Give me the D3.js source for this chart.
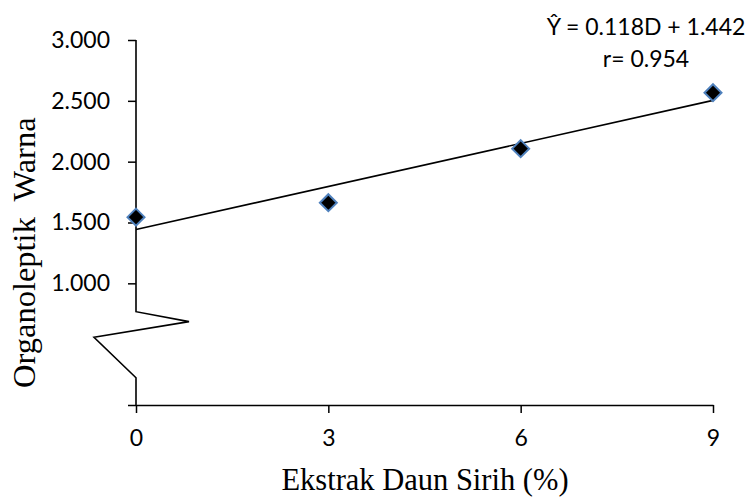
<!DOCTYPE html>
<html lang="en">
<head>
  <meta charset="UTF-8">
  <title>Organoleptik Warna vs Ekstrak Daun Sirih</title>
  <script src="https://d3js.org/d3.v7.min.js"></script>
  <style>
    body { margin: 0; background: #fff; }
    svg { display: block; }
    .tick text { font-family: Lato, 'Open Sans', sans-serif; font-size: 23px; fill: #000; }
    .tick line { stroke: #000; stroke-width: 1.5px; }
    .title { font-family: 'Liberation Serif', 'Times New Roman', serif; fill: #000; }
    .eq { font-family: Lato, 'Open Sans', sans-serif; font-size: 23px; fill: #000; }
  </style>
</head>
<body>
  <svg id="chart"></svg>
  <script>
    // data
    const ekstrak = [0, 3, 6, 9];                   // % daun sirih
    const warna = [1.544, 1.663, 2.107, 2.567];     // organoleptik warna score
    const xTicks = [0, 3, 6, 9];
    const yTicks = [0, 1, 1.5, 2, 2.5, 3];          // 0 tick has no label
    const slope = 0.118, intercept = 1.442, r = 0.954;

    const width = 750, height = 498;

    const svg = d3.select("#chart")
      .attr("width", width)
      .attr("height", height);

    const x = d3.scaleLinear().domain([0, 9]).range([136, 713]);
    const y = d3.scaleLinear().domain([0, 3]).range([405, 40]);

    // X axis
    const xAxis = svg.append("g")
      .attr("transform", "translate(0," + y(0) + ")")
      .call(d3.axisBottom(x).tickValues(xTicks).tickSize(8).tickSizeOuter(0).tickPadding(17));
    xAxis.select(".domain").attr("stroke", "#000").attr("stroke-width", 1.5);

    // Y axis (domain drawn by hand because of the axis break)
    const yAxis = svg.append("g")
      .attr("transform", "translate(" + x(0) + ",0)")
      .call(d3.axisLeft(y).tickValues(yTicks).tickSize(8).tickPadding(18)
        .tickFormat(d => d === 0 ? "" : d3.format(".3f")(d)));
    yAxis.select(".domain").remove();

    // axis line with a zig-zag break between 0 and 1
    const breakPts = [[0, 3], [0, 0.767], [53, 0.685], [-42, 0.557], [0, 0.224], [0, 0]];
    svg.append("path")
      .attr("d", d3.line()(breakPts.map(p => [x(0) + p[0], y(p[1])])))
      .attr("fill", "none")
      .attr("stroke", "#000")
      .attr("stroke-width", 1.6);

    // trend line
    svg.append("line")
      .attr("x1", x(0)).attr("y1", y(intercept))
      .attr("x2", x(9)).attr("y2", y(intercept + slope * 9))
      .attr("stroke", "#000")
      .attr("stroke-width", 1.6);

    // diamond markers
    svg.append("g")
      .selectAll("path")
      .data(ekstrak.map((d, i) => [d, warna[i]]))
      .join("path")
      .attr("transform", d => "translate(" + x(d[0]) + "," + y(d[1]) + ")")
      .attr("d", "M0,-8.5L8.5,0L0,8.5L-8.5,0Z")
      .attr("fill", "#000")
      .attr("stroke", "#4f81bd")
      .attr("stroke-width", 2);

    // equation
    svg.append("text")
      .attr("class", "eq")
      .attr("x", 646).attr("y", 35)
      .attr("text-anchor", "middle")
      .text("Ŷ = " + slope.toFixed(3) + "D + " + intercept.toFixed(3));
    svg.append("text")
      .attr("class", "eq")
      .attr("x", 646).attr("y", 67)
      .attr("text-anchor", "middle")
      .text("r= " + r.toFixed(3));

    // axis titles
    svg.append("text")
      .attr("class", "title")
      .attr("x", 425).attr("y", 490)
      .attr("text-anchor", "middle")
      .style("font-size", "30.5px")
      .text("Ekstrak Daun Sirih (%)");

    svg.append("text")
      .attr("class", "title")
      .attr("transform", "translate(35,388) rotate(-90)")
      .style("font-size", "32.5px")
      .style("white-space", "pre")
      .text("Organoleptik  Warna");
  </script>
</body>
</html>
